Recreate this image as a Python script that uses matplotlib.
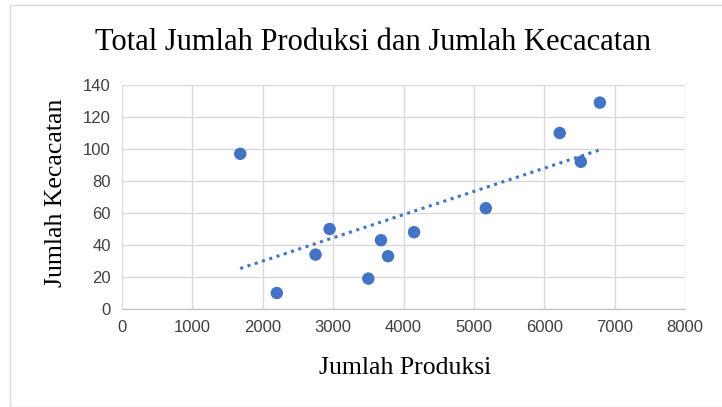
import matplotlib
matplotlib.use("Agg")
import matplotlib.pyplot as plt
import numpy as np
from matplotlib.patches import Rectangle

title = "Total Jumlah Produksi dan Jumlah Kecacatan"
xlabel = "Jumlah Produksi"
ylabel = "Jumlah Kecacatan"
produksi = [1680, 2200, 2750, 2950, 3500, 3680, 3780, 4150, 5170, 6220, 6520, 6790]
kecacatan = [97, 10, 34, 50, 19, 43, 33, 48, 63, 110, 92, 129]
xticks = [0, 1000, 2000, 3000, 4000, 5000, 6000, 7000, 8000]
yticks = [0, 20, 40, 60, 80, 100, 120, 140]

fig = plt.figure(figsize=(7.22, 4.07), dpi=100)
fig.patches.append(Rectangle((10/722, 0), 1.2, (407-5)/407, transform=fig.transFigure,
                             fill=False, edgecolor="#d9d9d9", linewidth=1.0))
ax = fig.add_axes([122/722, 1-309/407, (685-122)/722, (309-85)/407])
ax.set_xlim(0, 8000)
ax.set_ylim(0, 140)
ax.set_xticks(xticks)
ax.set_yticks(yticks)
ax.grid(True, color="#d9d9d9", linewidth=1.0)
ax.set_axisbelow(True)
for s in ["top", "right", "left"]:
    ax.spines[s].set_visible(False)
ax.spines["bottom"].set_color("#bfbfbf")
ax.tick_params(length=0, labelsize=12, colors="#404040", pad=8)
for lab in ax.get_xticklabels() + ax.get_yticklabels():
    lab.set_family("Liberation Sans")

x = np.array(produksi)
y = np.array(kecacatan)
ax.scatter(x, y, s=80, color="#4472C4", zorder=3, edgecolors="none")
m, b = np.polyfit(x, y, 1)
xs = np.array([x.min(), x.max()])
ax.plot(xs, m*xs + b, color="#4472C4", linestyle=(0, (1, 1.5)), linewidth=2.2, zorder=2)

fig.text(373/722, 1-42/407, title, ha="center", va="center", fontsize=22, family="Liberation Serif")
fig.text(405/722, 1-368/407, xlabel, ha="center", va="center", fontsize=18.5, family="Liberation Serif")
fig.text(56/722, 1-193/407, ylabel, ha="center", va="center", rotation=90, fontsize=18.5, family="Liberation Serif")

fig.savefig("out.png", dpi=100)
